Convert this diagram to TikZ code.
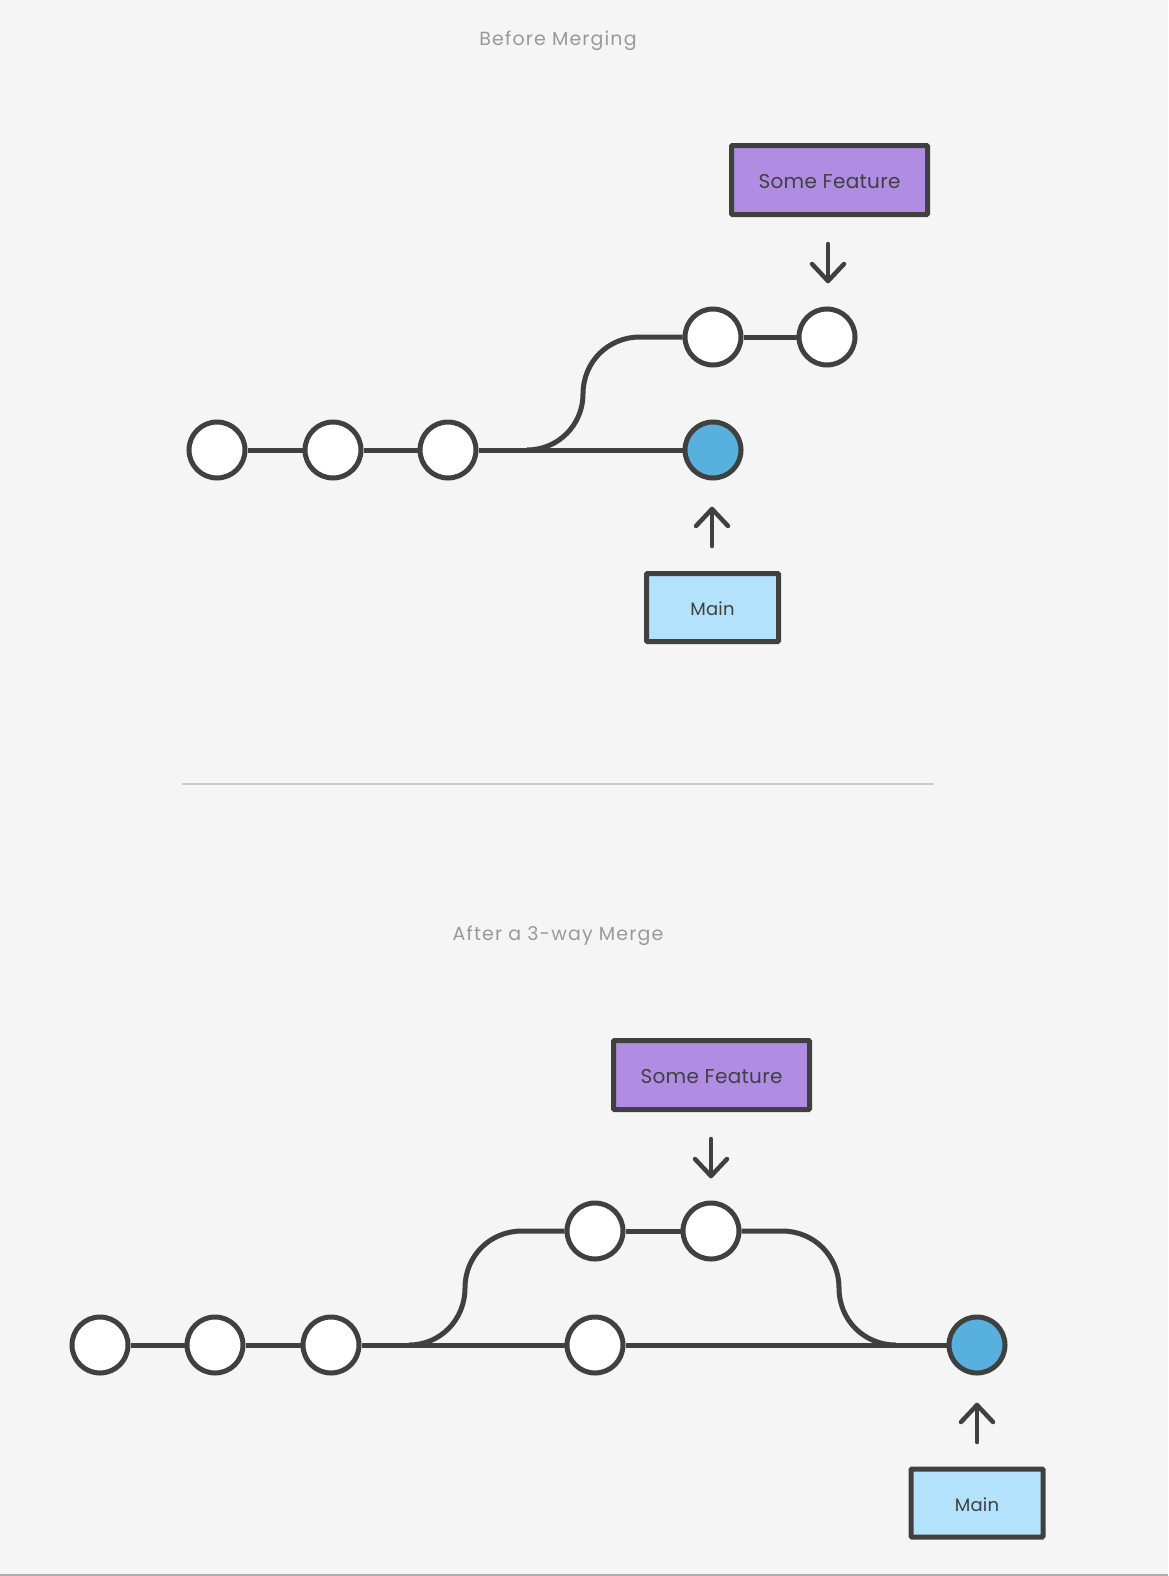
\documentclass[tikz,border=0pt]{standalone}
\usepackage{fontspec}
\setmainfont{Poppins}
\definecolor{bg}{HTML}{F5F5F5}
\definecolor{ink}{HTML}{404040}
\definecolor{titlegray}{HTML}{999999}
\definecolor{purplefill}{HTML}{B08DE3}
\definecolor{bluefill}{HTML}{58B0DE}
\definecolor{lightblue}{HTML}{B3E2FC}
\definecolor{sepgray}{HTML}{CCCCCC}
\newcommand{\lowertext}[2]{\vphantom{#2}\smash{\raisebox{-#1}{#2}}}
\begin{document}
\begin{tikzpicture}[x=1pt,y=-1pt,
  commit/.style={circle,draw=ink,line width=5pt,fill=white,minimum size=56pt,inner sep=0pt},
  head/.style={commit,fill=bluefill},
  featbox/.style={draw=ink,line width=5pt,fill=purplefill,minimum width=196pt,minimum height=69pt,inner sep=0pt,rounded corners=1pt,font=\fontsize{20}{24}\selectfont\addfontfeatures{LetterSpace=1.5},text=ink},
  mainbox/.style={draw=ink,line width=5pt,fill=lightblue,minimum width=132pt,minimum height=68pt,inner sep=0pt,rounded corners=1pt,font=\fontsize{18}{22}\selectfont\addfontfeatures{LetterSpace=1},text=ink},
  edge/.style={draw=ink,line width=5pt},
  pointer/.style={draw=ink,line width=4.5pt,line cap=round,line join=round},
  title/.style={text=titlegray,font=\fontsize{19}{23}\selectfont\addfontfeatures{LetterSpace=6}}
]
\fill[bg] (0,0) rectangle (1168,1576);
\useasboundingbox (0,0) rectangle (1168,1576);
\draw[titlegray!80,line width=2pt] (0,1575) -- (1168,1575);

% ---------- Before Merging ----------
\node[title] (t1title) at (558,41) {Before Merging};
\node[featbox] (feat1) at (829.5,180) {\lowertext{2pt}{Some Feature}};
\node[commit] (a1) at (217,450) {};
\node[commit] (a2) at (333,450) {};
\node[commit] (a3) at (448,450) {};
\node[head] (am) at (713,450) {};
\node[commit] (af1) at (713,337) {};
\node[commit] (af2) at (827,337) {};
\node[mainbox] (main1) at (712.5,607.5) {\lowertext{1.5pt}{Main}};
\coordinate (ab) at (527,450);
\draw[edge] (a1) -- (a2);
\draw[edge] (a2) -- (a3);
\draw[edge] (a3) -- (am);
\draw[edge] (af1) -- (af2);
\draw[edge] (ab) .. controls (558,450) and (583,425) .. (583,394)
  .. controls (583,362) and (608,337) .. (640,337) -- (af1);
% pointers
\coordinate (p1s) at (828,244);
\coordinate (p1e) at (828,281);
\draw[pointer] (p1s) -- (p1e);
\draw[pointer] ([xshift=-16pt,yshift=17pt]p1e) -- (p1e) -- ([xshift=16pt,yshift=17pt]p1e);
\coordinate (p2s) at (712,546);
\coordinate (p2e) at (712,509);
\draw[pointer] (p2s) -- (p2e);
\draw[pointer] ([xshift=-16pt,yshift=-17pt]p2e) -- (p2e) -- ([xshift=16pt,yshift=-17pt]p2e);

% separator
\coordinate (s1) at (182,784);
\coordinate (s2) at (934,784);
\draw[sepgray,line width=1.2pt] (s1) -- (s2);

% ---------- After a 3-way Merge ----------
\node[title] (t2title) at (558,936) {After a 3-way Merge};
\node[featbox] (feat2) at (711.5,1075) {\lowertext{2pt}{Some Feature}};
\node[commit] (b1) at (100,1345) {};
\node[commit] (b2) at (215,1345) {};
\node[commit] (b3) at (331,1345) {};
\node[commit] (b4) at (595,1345) {};
\node[head] (bm) at (977,1345) {};
\node[commit] (bf1) at (595,1231) {};
\node[commit] (bf2) at (711,1231) {};
\node[mainbox] (main2) at (977,1503) {\lowertext{1.5pt}{Main}};
\coordinate (bb1) at (409,1345);
\coordinate (bb2) at (896,1345);
\draw[edge] (b1) -- (b2);
\draw[edge] (b2) -- (b3);
\draw[edge] (b3) -- (b4);
\draw[edge] (b4) -- (bm);
\draw[edge] (bf1) -- (bf2);
\draw[edge] (bb1) .. controls (440,1345) and (465,1320) .. (465,1288)
  .. controls (465,1256) and (490,1231) .. (522,1231) -- (bf1);
\draw[edge] (bf2) -- (782,1231) .. controls (814,1231) and (839,1256) .. (839,1288)
  .. controls (839,1320) and (864,1345) .. (bb2);
\coordinate (q1s) at (711,1139);
\coordinate (q1e) at (711,1176);
\draw[pointer] (q1s) -- (q1e);
\draw[pointer] ([xshift=-16pt,yshift=17pt]q1e) -- (q1e) -- ([xshift=16pt,yshift=17pt]q1e);
\coordinate (q2s) at (977,1442);
\coordinate (q2e) at (977,1405);
\draw[pointer] (q2s) -- (q2e);
\draw[pointer] ([xshift=-16pt,yshift=-17pt]q2e) -- (q2e) -- ([xshift=16pt,yshift=-17pt]q2e);
\end{tikzpicture}
\end{document}
